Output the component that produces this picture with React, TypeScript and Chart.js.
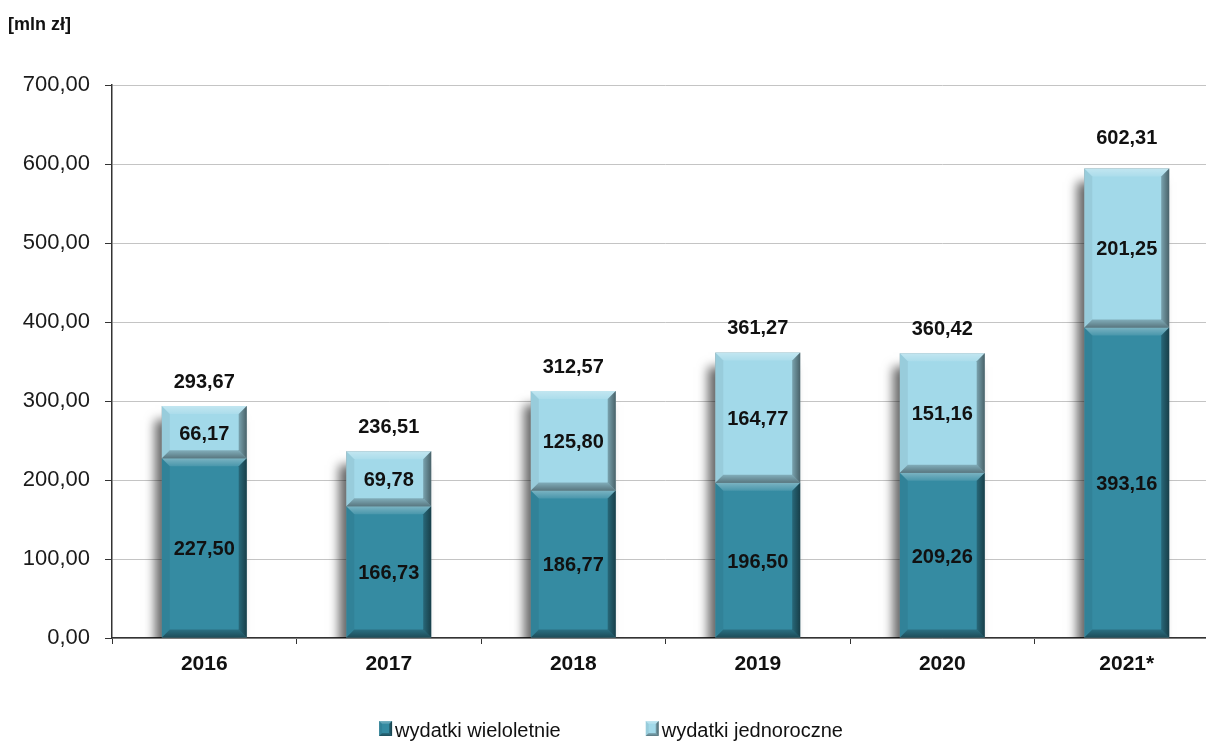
import { useEffect, useRef } from "react";
import { Chart, registerables } from "chart.js";

Chart.register(...registerables);

const categories = ["2016", "2017", "2018", "2019", "2020", "2021*"];
const multiYear = [227.5, 166.73, 186.77, 196.5, 209.26, 393.16];
const oneYear = [66.17, 69.78, 125.8, 164.77, 151.16, 201.25];
const totals = [293.67, 236.51, 312.57, 361.27, 360.42, 602.31];
const seriesNames = ["wydatki wieloletnie", "wydatki jednoroczne"];
const unitLabel = "[mln zł]";
const yMin = 0;
const yMax = 700;
const yStep = 100;

const FONT = '"Liberation Sans", Arial, sans-serif';
const DARK = "#358ba2";
const LIGHT = "#a2d9e9";

const fmt = (v: number) => v.toFixed(2).replace(".", ",");

function bevel(ctx: CanvasRenderingContext2D, l: number, t: number, r: number, b: number, s: number) {
  const poly = (pts: number[][], fill: string | CanvasGradient) => {
    ctx.beginPath();
    ctx.moveTo(pts[0][0], pts[0][1]);
    for (let i = 1; i < pts.length; i++) ctx.lineTo(pts[i][0], pts[i][1]);
    ctx.closePath();
    ctx.fillStyle = fill;
    ctx.fill();
  };
  const ss = Math.min(s, (r - l) / 2, (b - t) / 2);
  const gTop = ctx.createLinearGradient(0, t, 0, t + ss);
  gTop.addColorStop(0, "rgba(255,255,255,0.35)");
  gTop.addColorStop(1, "rgba(255,255,255,0.1)");
  poly([[l, t], [r, t], [r - ss, t + ss], [l + ss, t + ss]], gTop);
  poly([[l, t], [l + ss, t + ss], [l + ss, b - ss], [l, b]], "rgba(0,0,0,0.06)");
  const gRight = ctx.createLinearGradient(r - ss, 0, r, 0);
  gRight.addColorStop(0, "rgba(0,0,0,0.25)");
  gRight.addColorStop(1, "rgba(0,0,0,0.55)");
  poly([[r, t], [r, b], [r - ss, b - ss], [r - ss, t + ss]], gRight);
  const gBot = ctx.createLinearGradient(0, b - ss, 0, b);
  gBot.addColorStop(0, "rgba(0,0,0,0.2)");
  gBot.addColorStop(1, "rgba(0,0,0,0.45)");
  poly([[l, b], [l + ss, b - ss], [r - ss, b - ss], [r, b]], gBot);
}

export default function App() {
  const ref = useRef<HTMLCanvasElement>(null);

  useEffect(() => {
    const canvas = ref.current;
    if (!canvas) return;

    const shadowPlugin = {
      id: "barShadow",
      beforeDatasetsDraw(chart: any) {
        const ctx = chart.ctx as CanvasRenderingContext2D;
        const area = chart.chartArea;
        const metas = chart.getSortedVisibleDatasetMetas();
        if (!metas.length) return;
        const n = metas[0].data.length;
        ctx.save();
        ctx.beginPath();
        ctx.rect(area.left, area.top, area.right - area.left, area.bottom - area.top);
        ctx.clip();
        for (let i = 0; i < n; i++) {
          let top = Infinity, bottom = -Infinity, l = 0, w = 0;
          metas.forEach((m: any) => {
            const p = m.data[i].getProps(["x", "y", "base", "width"], true);
            top = Math.min(top, p.y, p.base);
            bottom = Math.max(bottom, p.y, p.base);
            l = p.x - p.width / 2;
            w = p.width;
          });
          ctx.shadowColor = "rgba(0,0,0,0.6)";
          ctx.shadowBlur = 10;
          ctx.shadowOffsetX = -7;
          ctx.shadowOffsetY = 14;
          ctx.fillStyle = "#888";
          ctx.fillRect(l, top, w, bottom - top);
        }
        ctx.restore();
      },
    };

    const decoPlugin = {
      id: "barDeco",
      afterDatasetsDraw(chart: any) {
        const ctx = chart.ctx as CanvasRenderingContext2D;
        const metas = chart.getSortedVisibleDatasetMetas();
        ctx.save();
        metas.forEach((m: any) => {
          m.data.forEach((el: any) => {
            const p = el.getProps(["x", "y", "base", "width"], true);
            const l = p.x - p.width / 2, r = p.x + p.width / 2;
            const t = Math.min(p.y, p.base), b = Math.max(p.y, p.base);
            bevel(ctx, l, t, r, b, 8);
          });
        });
        ctx.fillStyle = "#111";
        ctx.font = `bold 20px ${FONT}`;
        ctx.textAlign = "center";
        ctx.textBaseline = "middle";
        metas.forEach((m: any) => {
          const ds = chart.data.datasets[m.index];
          m.data.forEach((el: any, i: number) => {
            const p = el.getProps(["x", "y", "base"], true);
            ctx.fillText(fmt(ds.data[i] as number), p.x, (p.y + p.base) / 2 + 2);
          });
        });
        const last = metas[metas.length - 1];
        const yScale = chart.scales.y;
        last.data.forEach((el: any, i: number) => {
          const p = el.getProps(["x"], true);
          ctx.fillText(fmt(totals[i]), p.x, yScale.getPixelForValue(totals[i]) - 24);
        });
        ctx.restore();
      },
      afterDraw(chart: any) {
        const ctx = chart.ctx as CanvasRenderingContext2D;
        ctx.save();
        ctx.fillStyle = "#111";
        ctx.font = `bold 18px ${FONT}`;
        ctx.textAlign = "left";
        ctx.textBaseline = "middle";
        ctx.fillText(unitLabel, 8, 25);

        // legend
        ctx.font = `20px ${FONT}`;
        const box = 13, gapText = 3, gapItem = 85;
        const items = chart.data.datasets.map((d: any) => ({ label: d.label as string, color: d.backgroundColor as string }));
        const widths = items.map((it: any) => box + gapText + ctx.measureText(it.label).width);
        const total = widths.reduce((a: number, b: number) => a + b, 0) + gapItem * (items.length - 1);
        let x = chart.width / 2 - 4 - total / 2;
        const baseY = 737;
        items.forEach((it: any, i: number) => {
          ctx.fillStyle = it.color;
          ctx.fillRect(x, baseY - 16, box, 15);
          bevel(ctx, x, baseY - 16, x + box, baseY - 1, 3);
          ctx.fillStyle = "#111";
          ctx.textBaseline = "alphabetic";
          ctx.fillText(it.label, x + box + gapText, baseY);
          x += widths[i] + gapItem;
        });
        ctx.restore();
      },
    };

    const chart = new Chart(canvas, {
      type: "bar",
      data: {
        labels: categories,
        datasets: [
          { label: seriesNames[0], data: multiYear, backgroundColor: DARK, borderWidth: 0 },
          { label: seriesNames[1], data: oneYear, backgroundColor: LIGHT, borderWidth: 0 },
        ],
      },
      options: {
        animation: false,
        responsive: false,
        maintainAspectRatio: false,
        layout: { padding: { top: 85, bottom: 64, left: 0, right: 11 } },
        plugins: {
          legend: { display: false },
          title: { display: false },
          tooltip: { enabled: false },
        },
        datasets: { bar: { barPercentage: 0.92, categoryPercentage: 0.5 } },
        scales: {
          x: {
            stacked: true,
            afterFit(scale: any) {
              scale.height = 40;
            },
            grid: { drawOnChartArea: false, drawTicks: true, tickLength: 6, tickColor: "#333", offset: true },
            border: { color: "#333", width: 1.5 },
            ticks: { color: "#111", font: { family: FONT, size: 21, weight: "bold" }, padding: 8 },
          },
          y: {
            stacked: true,
            min: yMin,
            max: yMax,
            afterFit(scale: any) {
              scale.width = 112;
            },
            grid: { color: "#c4c4c4", lineWidth: 1, tickLength: 7, tickColor: "#333" },
            border: { color: "#333", width: 1.5 },
            ticks: {
              stepSize: yStep,
              color: "#1a1a1a",
              padding: 15,
              font: { family: FONT, size: 22 },
              callback: (v: any) => fmt(Number(v)),
            },
          },
        },
      },
      plugins: [shadowPlugin, decoPlugin],
    } as any);

    return () => chart.destroy();
  }, []);

  return (
    <div style={{ position: "absolute", left: 0, top: 0, width: 1206, height: 742, overflow: "hidden", background: "#fff" }}>
      <canvas ref={ref} width={1230} height={742} style={{ width: 1230, height: 742, display: "block" }} />
    </div>
  );
}
